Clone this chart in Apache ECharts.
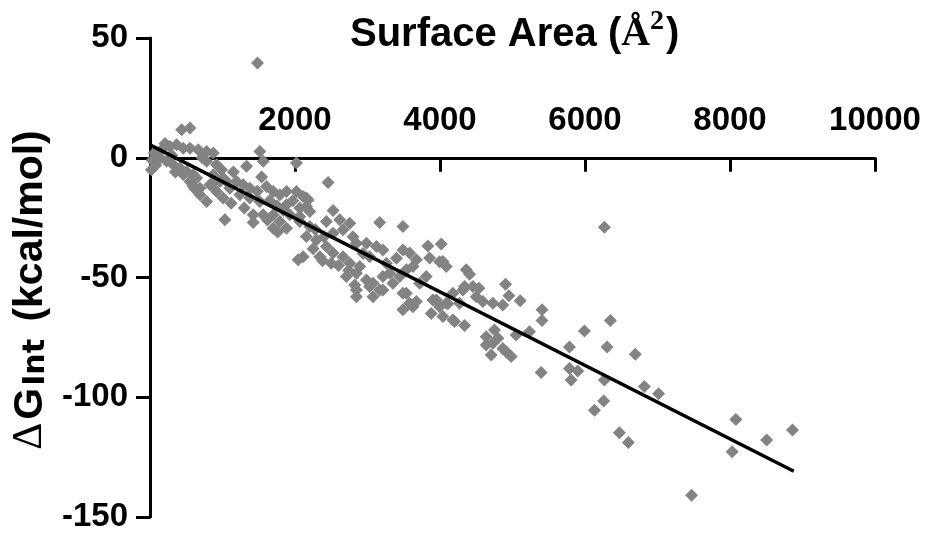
<!DOCTYPE html>
<html><head><meta charset="utf-8">
<script src="https://cdn.jsdelivr.net/npm/echarts@6/dist/echarts.min.js"></script>
<style>html,body{margin:0;padding:0;background:#fff}#c{width:927px;height:536px}</style>
</head><body><div id="c"></div>
<script>
// Surface area (Å^2) of each complex
const surfaceArea = [
  20,30,60,80,100,140,180,207,230,275,300,321,367,413,436,459,459,505,551,551,
  551,597,597,643,666,689,689,720,781,781,781,826,872,872,918,918,964,987,1009,1009,
  1033,1056,1102,1150,1194,1240,1285,1332,1377,1377,1423,1423,1483,1515,1515,1540,1561,1561,1607,1650,
  1699,1699,1699,1750,1791,1791,1840,1883,1883,1883,1928,1970,2020,2020,2043,2066,2066,2066,2112,2112,
  2158,2158,2158,2181,2204,2204,2250,2296,2342,2380,2433,2433,2456,2500,2525,2525,2525,2600,2617,2663,
  2663,2709,2740,2755,2755,2800,2824,2847,2847,2847,2847,2893,2940,2985,2985,3030,3030,3076,3076,3123,
  3168,3168,3213,3213,3213,3260,3306,3351,3400,3444,3489,3489,3489,3489,3535,3535,3581,3581,3627,3627,
  3673,3673,3719,3810,3833,3857,3879,3902,3949,3994,3994,4017,4040,4040,4086,4086,4109,4178,4178,4201,
  4270,4316,4339,4339,4362,4408,4454,4500,4536,4591,4637,4637,4706,4729,4729,4752,4798,4866,4866,4904,
  4913,4950,4982,5050,5106,5234,5407,5407,5395,5785,5785,5808,5900,5992,6130,6258,6267,6267,6304,6350,
  6474,6598,6694,6818,7015,7470,8030,8081,8506,8862,
  350,620,850,1120,1300,1480,1620,1760,2280,2400
];
// ΔG_Int (kcal/mol) for each complex, same order
const deltaG = [
  -5,-1,2,-3,1,0,4,6,-1.5,4.7,1,-2.9,5.4,-4.3,11.7,4,-7,-5.7,12.4,4,
  -9.9,-7.1,-12,-8.5,3.3,-12.7,-15.5,0,2.6,-1.5,-18.3,-11.3,2,-7.1,-2.9,-14.1,-9.9,-5,-8.5,-16.8,
  -25.9,-9.9,-12.7,-6,-9.9,-15.5,-11.3,-3.6,-12.7,-16.8,-23.8,-27,39.6,2.6,-18.3,-8,-1.5,-23.8,-12,-18,
  -14.1,-23.8,-29.4,-20,-15.5,-26.6,-22,-14.1,-19.6,-29.4,-23.8,-18,-2.2,-14.1,-42.6,-21,-24.5,-26.6,-16.2,-41.3,
  -16.8,-20.4,-32.9,-17.6,-22.4,-28.7,-38,-34.3,-41.3,-43,-26.6,-37.1,-10.3,-44,-22,-31.5,-39.8,-45,-25.9,-30.1,
  -41.3,-49.6,-47,-27.3,-44,-33,-53.1,-35.7,-48.2,-55.2,-58,-45.4,-40,-35.7,-51,-41.3,-53.8,-52.4,-58,-37.1,
  -27,-55.2,-38.5,-49.6,-55.2,-44,-48.2,-52.4,-42,-49.6,-28.7,-38.5,-56.6,-63.5,-46.8,-56.6,-39.8,-60.7,-45.4,-62.2,
  -42.6,-60,-52.4,-49.6,-36.8,-41.9,-65,-59.4,-59.4,-43.4,-62.2,-36,-43.3,-66.3,-45.4,-60.7,-61,-56.6,-67.7,-68.4,
  -60.7,-55.2,-53.8,-70,-46.8,-48.6,-53.8,-58,-54.5,-60,-74.7,-78.2,-82.4,-60.7,-77.5,-71.9,-75.4,-61.5,-79.6,-52.8,
  -81,-57.6,-83,-74,-59.7,-72.6,-63.5,-68,-89.7,-79,-88,-92.8,-89,-72.3,-105.4,-101.6,-29,-92.8,-79,-68,
  -114.8,-118.9,-82,-95.5,-98.5,-140.9,-122.8,-109.3,-117.9,-113.7,
  -6,-13,-11,-19,-21,-14,-26,-31,-30,-33
];
// Linear fit endpoints
const fitArea = [0, 8880];
const fitDeltaG = [5.4, -130.9];
// Axis ticks
const xTicks = [0, 2000, 4000, 6000, 8000, 10000];
const yTicks = [-150, -100, -50, 0, 50];

const points = surfaceArea.map((x, i) => [x, deltaG[i]]);
const fitLine = fitArea.map((x, i) => [x, fitDeltaG[i]]);

const SANS = '"Liberation Sans", Arial, Helvetica, sans-serif';
const SERIF = '"Liberation Serif", "Times New Roman", serif';

const GRID_TOP = 38, GRID_BOTTOM = 19, H = 536;
const plotH = H - GRID_TOP - GRID_BOTTOM;
const yMax = yTicks[yTicks.length - 1], yMin = yTicks[0];
// x axis sits on ΔG = 0: shift it down from the grid top by that many pixels
const zeroOffset = plotH * (yMax - 0) / (yMax - yMin);

const chart = echarts.init(document.getElementById('c'), null, {renderer: 'canvas'});
chart.setOption({
  animation: false,
  backgroundColor: '#ffffff',
  grid: {left: 150, right: 52, top: GRID_TOP, bottom: GRID_BOTTOM, containLabel: false, outerBoundsMode: 'none'},
  xAxis: {
    type: 'value',
    position: 'top',
    offset: -zeroOffset,
    min: xTicks[0], max: xTicks[xTicks.length - 1], interval: xTicks[1] - xTicks[0],
    axisLine: {onZero: false, lineStyle: {color: '#000', width: 3}},
    axisTick: {inside: true, length: 14, lineStyle: {color: '#000', width: 3}},
    axisLabel: {
      margin: 20, color: '#000', fontSize: 33, fontWeight: 'bold', fontFamily: SANS,
      formatter: v => (v === 0 ? '' : String(v))
    },
    splitLine: {show: false}
  },
  yAxis: {
    type: 'value',
    min: yMin, max: yMax, interval: yTicks[1] - yTicks[0],
    axisLine: {onZero: false, lineStyle: {color: '#000', width: 3}},
    axisTick: {inside: false, length: 14, lineStyle: {color: '#000', width: 3}},
    axisLabel: {margin: 22, color: '#000', fontSize: 33, fontWeight: 'bold', fontFamily: SANS},
    splitLine: {show: false}
  },
  series: [
    {
      type: 'scatter', data: points, symbol: 'diamond', symbolSize: 13,
      itemStyle: {color: '#838383', opacity: 1}, z: 2
    },
    {
      type: 'line', data: fitLine, symbol: 'none',
      lineStyle: {color: '#000', width: 3.5}, z: 5
    }
  ],
  graphic: [
    {
      type: 'text', x: 350, y: 15, z: 10,
      style: {
        text: '{a|Surface Area (}{b|Å}{s|2}{a|)}',
        align: 'left', verticalAlign: 'top', fill: '#000',
        rich: {
          a: {fontFamily: SANS, fontWeight: 'bold', fontSize: 40, lineHeight: 40, verticalAlign: 'bottom', fill: '#000'},
          b: {fontFamily: SERIF, fontWeight: 'bold', fontSize: 40, lineHeight: 40, verticalAlign: 'bottom', fill: '#000'},
          s: {fontFamily: SERIF, fontWeight: 'bold', fontSize: 28, lineHeight: 28, padding: [0, 2, 19, 0], verticalAlign: 'bottom', fill: '#000'}
        }
      }
    },
    {
      type: 'text', x: 31, y: 290, rotation: Math.PI / 2, z: 10,
      style: {
        text: '{d|Δ}{a|G}{s|Int}{a| (kcal/mol)}',
        align: 'center', verticalAlign: 'middle', fill: '#000',
        rich: {
          d: {fontFamily: SERIF, fontWeight: 'normal', fontSize: 42, lineHeight: 40, verticalAlign: 'bottom', fill: '#000', padding: [0, 3, 0, 0]},
          a: {fontFamily: SANS, fontWeight: 'bold', fontSize: 41, lineHeight: 40, verticalAlign: 'bottom', fill: '#000'},
          s: {fontFamily: '"DejaVu Sans", sans-serif', fontWeight: 'bold', fontSize: 30, lineHeight: 29, verticalAlign: 'bottom', fill: '#000', padding: [0, 6, 0, 2]}
        }
      }
    }
  ]
});
</script>
</body></html>
